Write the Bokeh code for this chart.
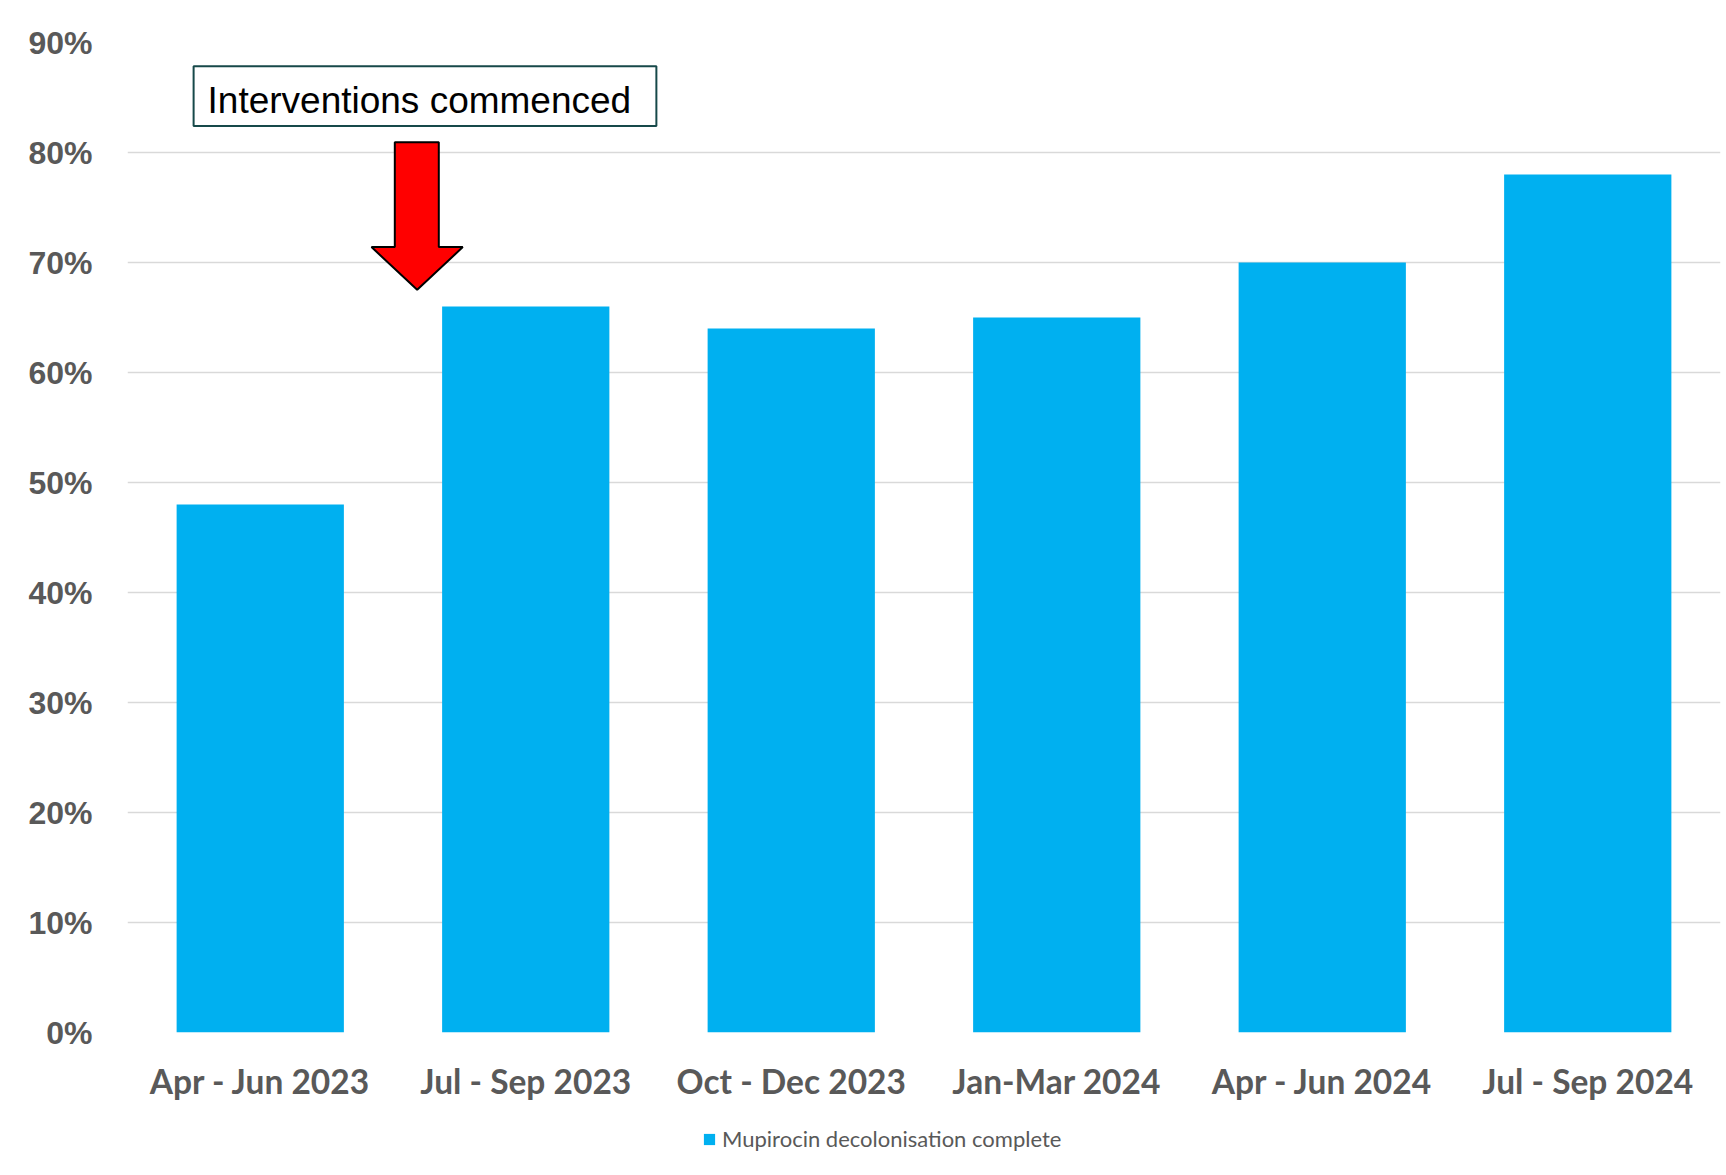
from bokeh.plotting import figure
from bokeh.layouts import column
from bokeh.models import (FactorRange, Range1d, FixedTicker, NumeralTickFormatter, Legend,
                          LegendItem, BoxAnnotation, Label, PolyAnnotation)
from bokeh.embed import file_html
from bokeh.resources import INLINE

# ---- data ----
categories = ["Apr - Jun 2023", "Jul - Sep 2023", "Oct - Dec 2023",
              "Jan-Mar 2024", "Apr - Jun 2024", "Jul - Sep 2024"]
values = [0.48, 0.66, 0.64, 0.65, 0.70, 0.78]
y_ticks = [0.0, 0.1, 0.2, 0.3, 0.4, 0.5, 0.6, 0.7, 0.8, 0.9]
series_name = "Mupirocin decolonisation complete"
annotation_text = "Interventions commenced"

# annotation geometry (synthetic x units: category i spans i..i+1)
box_x = (0.249, 1.992)
box_y = (0.824, 0.8785)
arrow_xs = [1.0068, 1.1725, 1.1725, 1.2629, 1.0911, 0.9190, 1.0068]
arrow_ys = [0.8094, 0.8094, 0.7140, 0.7140, 0.6752, 0.7140, 0.7140]

BAR = "#00B0F0"
GREY = "#595959"
GRID = "#D9D9D9"

p = figure(frame_width=1593, frame_height=990, x_range=FactorRange(*categories),
           y_range=Range1d(0, 0.9), output_backend="svg", toolbar_location=None,
           min_border_left=127, min_border_right=6, min_border_top=42, min_border_bottom=75)
p.outline_line_color = None
p.background_fill_color = "white"
p.border_fill_color = "white"

r = p.vbar(x=categories, top=values, width=0.63, color=BAR, line_color=None)

# axes
p.xaxis.axis_line_color = None
p.xaxis.major_tick_line_color = None
p.xaxis.minor_tick_line_color = None
p.xaxis.major_tick_out = 0
p.xaxis.major_label_text_font = "Lato"
p.xaxis.major_label_text_font_style = "bold"
p.xaxis.major_label_text_font_size = "33.5px"
p.xaxis.major_label_text_color = GREY
p.xaxis.major_label_standoff = 28

p.yaxis.ticker = FixedTicker(ticks=y_ticks)
p.yaxis.formatter = NumeralTickFormatter(format="0%")
p.yaxis.axis_line_color = None
p.yaxis.major_tick_line_color = None
p.yaxis.minor_tick_line_color = None
p.yaxis.major_label_text_font = "Liberation Sans"
p.yaxis.major_label_text_font_style = "bold"
p.yaxis.major_label_text_font_size = "32px"
p.yaxis.major_label_text_color = GREY
p.yaxis.major_label_standoff = 29

p.xgrid.grid_line_color = None
p.ygrid.ticker = FixedTicker(ticks=y_ticks)
p.ygrid.grid_line_color = GRID
p.ygrid.grid_line_width = 1.5

# annotation box + text
p.add_layout(BoxAnnotation(left=box_x[0], right=box_x[1], bottom=box_y[0], top=box_y[1],
                           fill_color="white", fill_alpha=1.0,
                           line_color="#17494A", line_alpha=1.0, line_width=2,
                           level="annotation"))
p.add_layout(Label(x=0.3014, y=0.8475, text=annotation_text, text_font="Liberation Sans",
                   text_font_size="37px", text_color="black", text_baseline="middle",
                   level="annotation"))
# arrow
p.add_layout(PolyAnnotation(xs=arrow_xs, ys=arrow_ys, fill_color="#FF0000", fill_alpha=1.0,
                            line_color="black", line_alpha=1.0, line_width=2,
                            level="annotation"))

# legend strip below the chart (its series renderer lies outside the strip's view)
pl = figure(width=1726, height=68, x_range=Range1d(10, 11), y_range=Range1d(2, 3),
            output_backend="svg", toolbar_location=None, min_border=0)
pl.axis.visible = False
pl.grid.visible = False
pl.outline_line_color = None
pl.border_fill_color = "white"
rl = pl.vbar(x=list(range(len(values))), top=values, width=0.63, color=BAR, line_color=None)

legend = Legend(items=[LegendItem(label=series_name, renderers=[rl])],
                orientation="horizontal", location=(575, 23))
legend.border_line_color = None
legend.background_fill_alpha = 0
legend.label_text_font = "Lato"
legend.label_text_font_size = "22px"
legend.label_text_color = GREY
legend.glyph_width = 14
legend.glyph_height = 14
legend.label_standoff = 6
legend.label_height = 22
legend.padding = 0
legend.margin = 0
pl.add_layout(legend, "center")

layout = column(p, pl, spacing=0)
open("out.html", "w").write(file_html(layout, INLINE))
